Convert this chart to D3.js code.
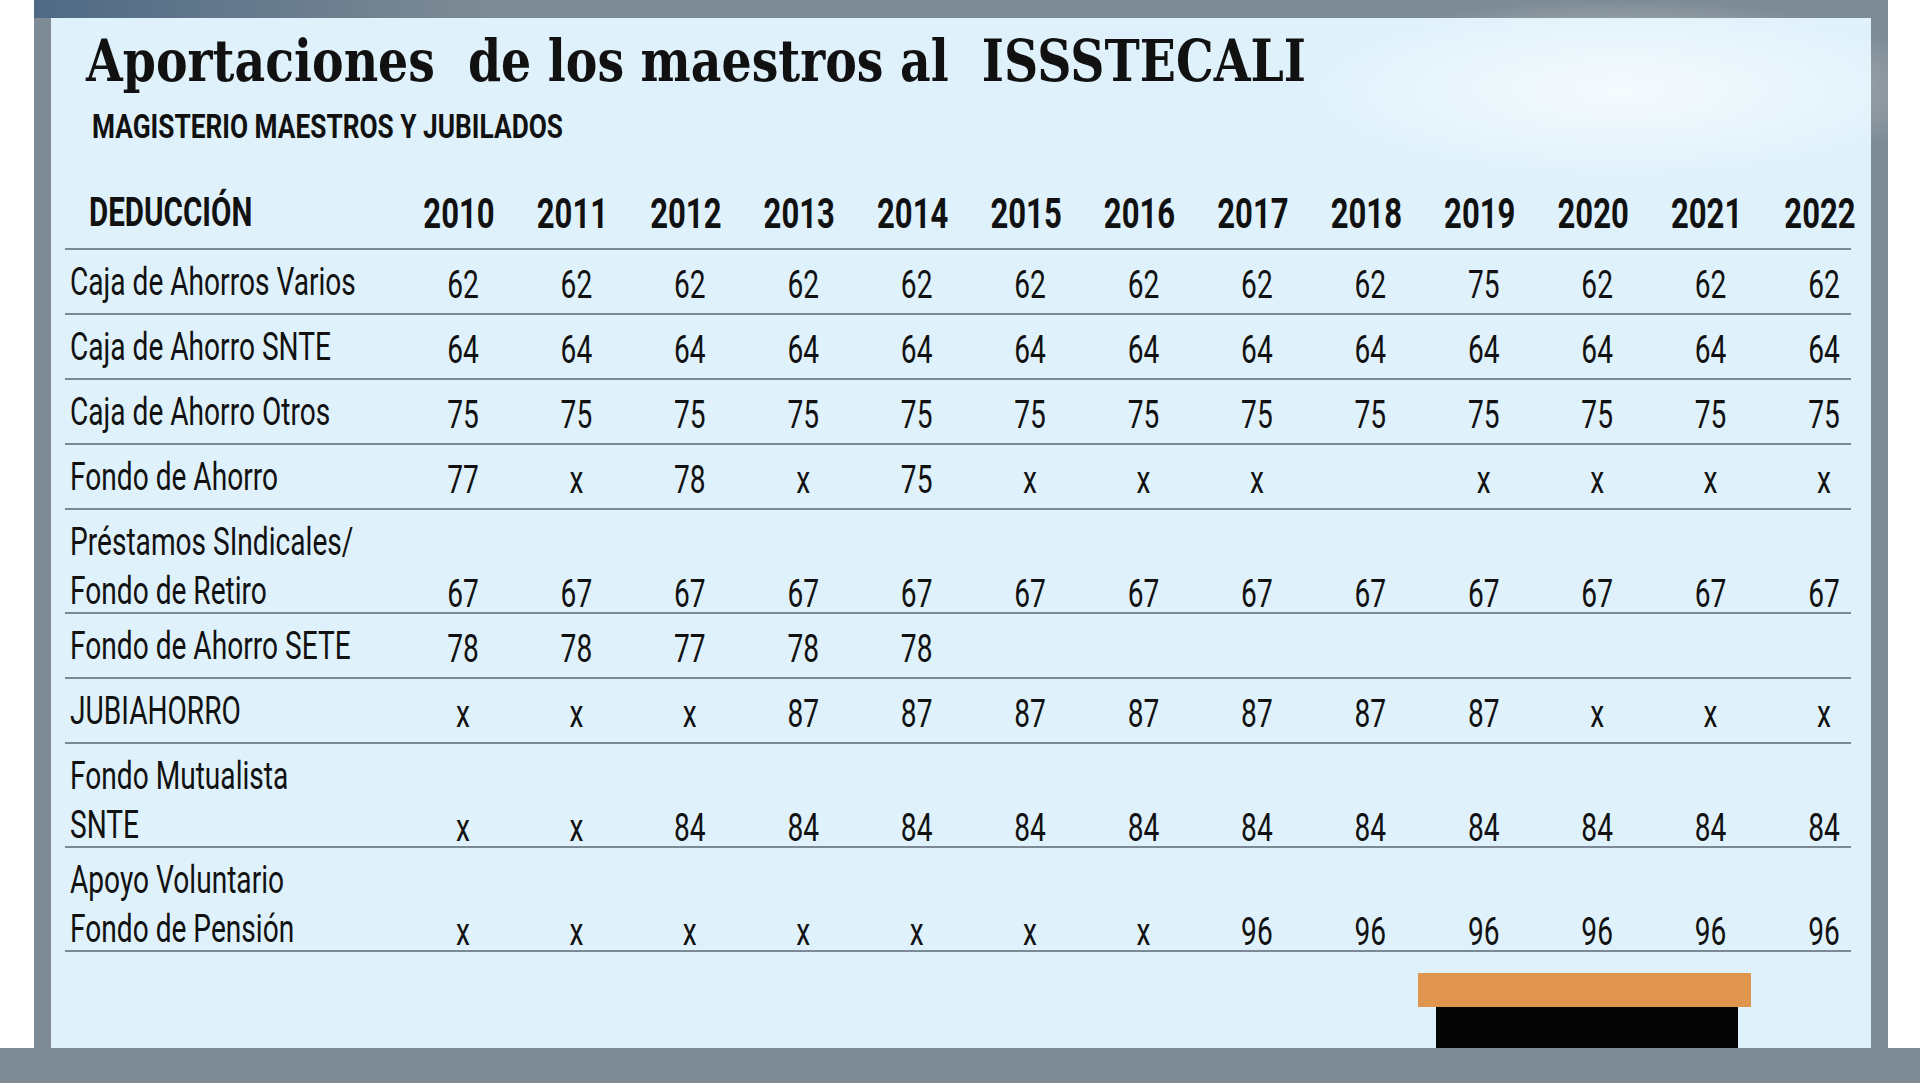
<!DOCTYPE html>
<html><head><meta charset="utf-8">
<script src="https://cdn.jsdelivr.net/npm/d3@7"></script>
<style>body{margin:0;background:#fff;}</style>
</head><body>
<div id="chart"></div>
<script>
// table data
const years = ["2010","2011","2012","2013","2014","2015","2016","2017","2018","2019","2020","2021","2022"];
const rowLabels = [
  ["Caja de Ahorros Varios"],
  ["Caja de Ahorro SNTE"],
  ["Caja de Ahorro Otros"],
  ["Fondo de Ahorro"],
  ["Préstamos SIndicales/", "Fondo de Retiro"],
  ["Fondo de Ahorro SETE"],
  ["JUBIAHORRO"],
  ["Fondo Mutualista", "SNTE"],
  ["Apoyo Voluntario", "Fondo de Pensión"]
];
const cajaVarios   = ["62","62","62","62","62","62","62","62","62","75","62","62","62"];
const cajaSnte     = ["64","64","64","64","64","64","64","64","64","64","64","64","64"];
const cajaOtros    = ["75","75","75","75","75","75","75","75","75","75","75","75","75"];
const fondoAhorro  = ["77","x","78","x","75","x","x","x","","x","x","x","x"];
const prestamos    = ["67","67","67","67","67","67","67","67","67","67","67","67","67"];
const fondoSete    = ["78","78","77","78","78","","","","","","","",""];
const jubiahorro   = ["x","x","x","87","87","87","87","87","87","87","x","x","x"];
const mutualista   = ["x","x","84","84","84","84","84","84","84","84","84","84","84"];
const apoyo        = ["x","x","x","x","x","x","x","96","96","96","96","96","96"];
const rows = [cajaVarios, cajaSnte, cajaOtros, fondoAhorro, prestamos, fondoSete, jubiahorro, mutualista, apoyo];

const W = 1920, H = 1083;
const svg = d3.select("#chart").append("svg").attr("width", W).attr("height", H);

const defs = svg.append("defs");
const g1 = defs.append("linearGradient").attr("id", "topbar");
g1.append("stop").attr("offset", "0").attr("stop-color", "#4f6a85");
g1.append("stop").attr("offset", "0.25").attr("stop-color", "#7e8b95");
g1.append("stop").attr("offset", "1").attr("stop-color", "#7e8b95");
const g2 = defs.append("radialGradient").attr("id", "glow");
g2.append("stop").attr("offset", "0").attr("stop-color", "#ffffff").attr("stop-opacity", 0.7);
g2.append("stop").attr("offset", "1").attr("stop-color", "#ffffff").attr("stop-opacity", 0);

// frame
svg.append("rect").attr("x", 34).attr("y", 0).attr("width", 1854).attr("height", 1048).attr("fill", "#7e8b95");
svg.append("rect").attr("x", 34).attr("y", 0).attr("width", 1854).attr("height", 18).attr("fill", "url(#topbar)");
svg.append("rect").attr("x", 51).attr("y", 18).attr("width", 1820).attr("height", 1030).attr("fill", "#dff1fb");
svg.append("ellipse").attr("cx", 1620).attr("cy", 90).attr("rx", 320).attr("ry", 90).attr("fill", "url(#glow)");
svg.append("rect").attr("x", 0).attr("y", 1048).attr("width", W).attr("height", 35).attr("fill", "#7e8b95");

// title
svg.append("text").attr("x", 86).attr("y", 81)
  .attr("font-family", "DejaVu Serif").attr("font-weight", "bold").attr("font-size", 58)
  .attr("textLength", 1220).attr("lengthAdjust", "spacingAndGlyphs").attr("fill", "#111")
  .attr("xml:space", "preserve")
  .text("Aportaciones  de los maestros al  ISSSTECALI");
svg.append("text").attr("x", 92).attr("y", 138)
  .attr("font-family", "Roboto").attr("font-weight", "bold").attr("font-size", 34)
  .attr("textLength", 471).attr("lengthAdjust", "spacingAndGlyphs").attr("fill", "#111")
  .text("MAGISTERIO MAESTROS Y JUBILADOS");

const x = d3.scalePoint().domain(years).range([459, 1820]);
const sx = 0.74;
const font = "Roboto";

function condText(xp, yp, txt, size, weight, anchor) {
  svg.append("text")
    .attr("transform", `translate(${xp},${yp}) scale(${sx},1)`)
    .attr("font-family", font).attr("font-size", size).attr("font-weight", weight)
    .attr("text-anchor", anchor).attr("fill", "#111").text(txt);
}

// header
condText(89, 226, "DEDUCCIÓN", 40, "bold", "start");
years.forEach(yr => condText(x(yr), 228, yr, 42, "bold", "middle"));

// rows
const top0 = 249, lineH = 65, lineH2 = 104;
let y = top0;
svg.append("line").attr("x1", 65).attr("x2", 1851).attr("y1", y).attr("y2", y).attr("stroke", "#7b8a95").attr("stroke-width", 2);
rows.forEach((vals, i) => {
  const lbl = rowLabels[i];
  const h = lbl.length === 1 ? lineH : lineH2;
  lbl.forEach((t, j) => condText(70, y + 46 + j * 49, t, 38, "normal", "start"));
  const vb = y + 49 + (lbl.length - 1) * 49;
  vals.forEach((v, k) => { if (v) condText(x(years[k]) + 4, vb, v, 38, "normal", "middle"); });
  y += h;
  svg.append("line").attr("x1", 65).attr("x2", 1851).attr("y1", y).attr("y2", y).attr("stroke", "#7b8a95").attr("stroke-width", 2);
});

// decoration
svg.append("rect").attr("x", 1418).attr("y", 973).attr("width", 333).attr("height", 34).attr("fill", "#e0954f");
svg.append("rect").attr("x", 1436).attr("y", 1007).attr("width", 302).attr("height", 41).attr("fill", "#050505");
</script>
</body></html>
